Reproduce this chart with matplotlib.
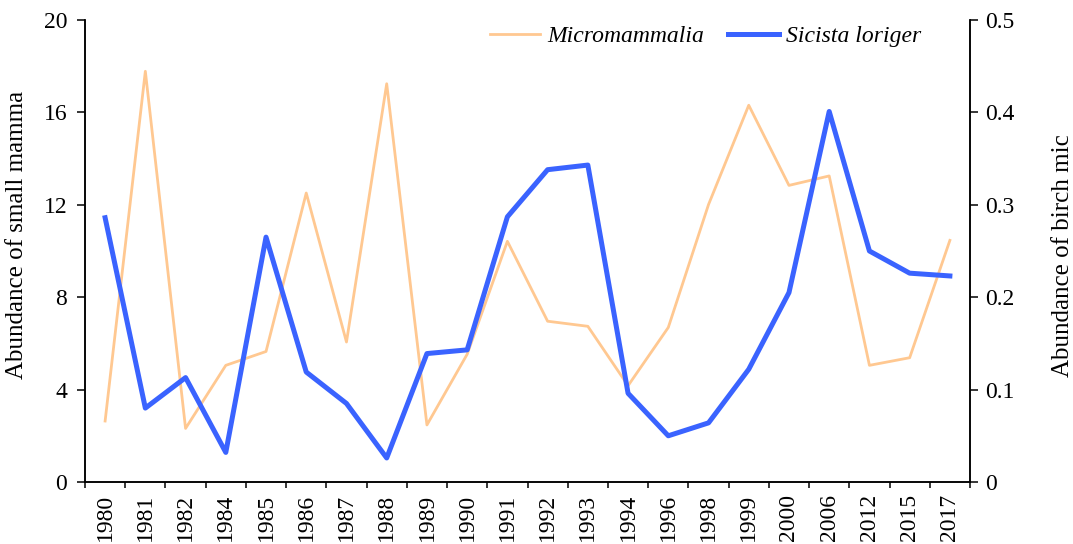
import numpy as np
import matplotlib
matplotlib.use('Agg')
import matplotlib.pyplot as plt

plt.rcParams['font.family'] = ['Liberation Serif', 'DejaVu Serif']

years = ['1980', '1981', '1982', '1984', '1985', '1986', '1987', '1988', '1989', '1990', '1991',
         '1992', '1993', '1994', '1996', '1998', '1999', '2000', '2006', '2012', '2015', '2017']

# small mammals (left axis)
micromammalia = [2.64, 17.78, 2.32, 5.05, 5.65, 12.51, 6.06, 17.24, 2.47, 5.53, 10.42,
                 6.96, 6.74, 4.17, 6.69, 12.01, 16.31, 12.84, 13.25, 5.05, 5.38, 10.46]

# birch mice (right axis)
sicista = [0.286, 0.080, 0.113, 0.032, 0.265, 0.119, 0.085, 0.026, 0.139, 0.143, 0.287,
           0.338, 0.343, 0.096, 0.050, 0.064, 0.122, 0.205, 0.401, 0.250, 0.226, 0.223]

orange = '#FFC891'
blue = '#3A63FF'

W, H = 1073, 544
x = np.arange(len(years))

fig = plt.figure(figsize=(W / 100, H / 100), dpi=100)
ax = fig.add_axes([85 / W, 1 - 482 / H, (970 - 85) / W, (482 - 20) / H])
ax2 = ax.twinx()

l1, = ax.plot(x, micromammalia, color=orange, lw=2.0, label='Micromammalia')
l2, = ax2.plot(x, sicista, color=blue, lw=3.6, label='Sicista loriger')

ax.set_xlim(-0.5, len(years) - 0.5)
ax.set_ylim(0, 20)
ax.set_yticks([0, 4, 8, 12, 16, 20])
ax2.set_ylim(0, 0.5)
ax2.set_yticks([0, 0.1, 0.2, 0.3, 0.4, 0.5])
ax2.set_yticklabels(['0', '0.1', '0.2', '0.3', '0.4', '0.5'])

ax.set_xticks(x)
ax.set_xticklabels(years, rotation=90)
ax.set_xticks(np.arange(-0.5, len(years), 1), minor=True)
ax.tick_params(axis='x', which='major', length=0, labelsize=17, pad=8.5)
ax.tick_params(axis='x', which='minor', length=4.5, width=1.1, direction='out')
ax.tick_params(axis='y', length=5.8, width=1.1, labelsize=17, direction='out', pad=7)
ax2.tick_params(axis='y', length=5.8, width=1.1, labelsize=17, direction='out', pad=5)

for a in (ax, ax2):
    a.spines['top'].set_visible(False)
    for s in ('left', 'right', 'bottom'):
        a.spines[s].set_linewidth(1.1)

# axis titles (cut short as in the original figure)
fig.text(17 / W, 1 - 235 / H, 'Abundance of small mamma', fontsize=18, rotation=90,
         ha='center', va='center')
fig.text(1063 / W, 1 - 256 / H, 'Abundance of birch mic', fontsize=18, rotation=90,
         ha='center', va='center')

leg = ax2.legend([l1, l2], ['Micromammalia', 'Sicista loriger'], ncol=2, frameon=False,
                 loc='center right', bbox_to_anchor=(921 / W, 1 - 36 / H), bbox_transform=fig.transFigure,
                 prop={'style': 'italic', 'size': 17}, borderpad=0, borderaxespad=0,
                 handlelength=2.15, columnspacing=1.0, handletextpad=0.3)

fig.savefig('out.png', dpi=100)
